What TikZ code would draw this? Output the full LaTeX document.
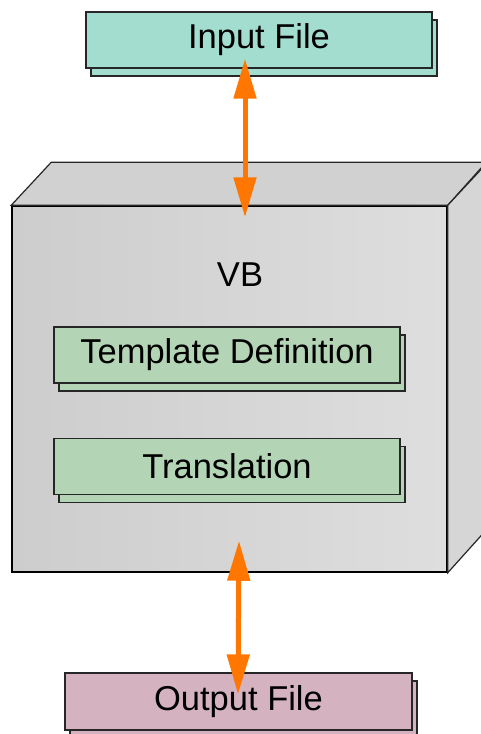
\documentclass[tikz,border=0pt]{standalone}
\usepackage{fontspec}
\setmainfont{Liberation Sans}
\usetikzlibrary{arrows.meta,shadows}
\definecolor{inputcol}{HTML}{A3DDD0}
\definecolor{stepcol}{HTML}{B3D4B5}
\definecolor{outputcol}{HTML}{D4B2BF}
\definecolor{flowcol}{HTML}{FF7700}
\definecolor{cubeleft}{HTML}{CDCDCD}
\definecolor{cuberight}{HTML}{DEDEDE}
\begin{document}
\begin{tikzpicture}
[x=1pt,y=-1pt,
box/.style={rectangle,draw=black!85,line width=1.3pt,inner sep=0pt,minimum width=346pt,minimum height=56pt,font=\fontsize{34.5}{40}\selectfont,copy shadow={shadow xshift=5pt,shadow yshift=-8pt}},
flow/.style={draw=flowcol,line width=5pt,{Triangle[width=22pt,length=40pt]}-{Triangle[width=22pt,length=40pt]}}]
\useasboundingbox (0,0) rectangle (481,734);
\clip (0,0) rectangle (481,734);
\node[rectangle,draw=black,line width=1.5pt,left color=cubeleft,right color=cuberight,minimum width=435pt,minimum height=366pt] at (229.5,389) (vb) {};
\draw[black!85,line width=1.2pt,fill=black!18] (vb.north west) -- ++(40,-43) -- ++(435,0) -- (vb.north east) -- cycle;
\draw[black!85,line width=1.2pt,fill=black!16] (vb.north east) -- ++(40,-43) -- ++(0,366) -- (vb.south east) -- cycle;
\node[font=\fontsize{34.5}{40}\selectfont] at (240,275) (vbname) {VB};
\node[box,fill=inputcol] at (259,40) (inp) {Input File};
\node[box,fill=stepcol] at (227,355) (tmpl) {Template Definition};
\node[box,fill=stepcol] at (227,466.5) (trans) {Translation};
\node[box,fill=outputcol,minimum width=347pt,minimum height=57pt] at (238.5,701.5) (outp) {Output File};
\draw[flow] ([xshift=-14pt,yshift=10pt]inp.south) -- ([xshift=15.5pt,yshift=-12pt]vb.north);
\draw[flow] ([xshift=9.5pt,yshift=32pt]vb.south) -- ([xshift=-0.5pt,yshift=-22pt]outp.north);
\end{tikzpicture}
\end{document}
